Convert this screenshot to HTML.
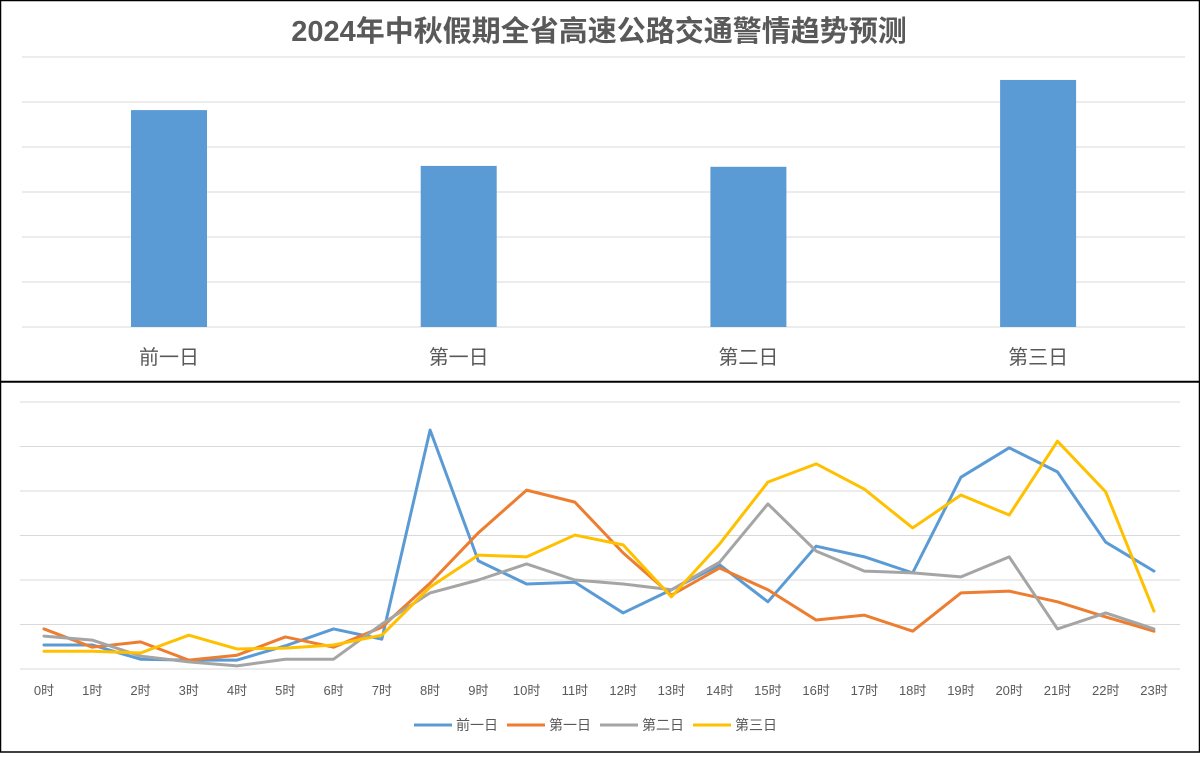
<!DOCTYPE html>
<html><head><meta charset="utf-8">
<style>
body{margin:0;background:#fff;}
svg text{font-family:"Liberation Sans","Noto Sans CJK SC",sans-serif;fill:#595959;}
</style></head>
<body>
<svg width="1200" height="753" xmlns="http://www.w3.org/2000/svg">
<rect x="0.5" y="0.5" width="1199" height="381" fill="#fff" stroke="#000" stroke-width="1.5"/>
<rect x="0.5" y="382" width="1199" height="370" fill="#fff" stroke="#000" stroke-width="1.5"/>
<text x="599" y="41" text-anchor="middle" font-size="29" font-weight="bold">2024年中秋假期全省高速公路交通警情趋势预测</text>
<g id="topChart"></g>
<g id="bottomChart"></g>
</svg>
<script>
const barCats=["前一日","第一日","第二日","第三日"];
const barVals=[4.82,3.58,3.56,5.49];
const hours=["0时","1时","2时","3时","4时","5时","6时","7时","8时","9时","10时","11时","12时","13时","14时","15时","16时","17时","18时","19时","20时","21时","22时","23时"];
const seriesNames=["前一日","第一日","第二日","第三日"];
const s0=[54,54,22,20,20,52,90,67,537,243,191,195,126,178,234,151,276,252,216,431,497,443,285,220];
const s1=[90,49,61,20,31,72,49,94,193,306,402,375,261,166,227,178,110,121,85,171,175,151,117,85];
const s2=[74,65,29,16,7,22,22,101,171,200,236,200,191,178,240,371,265,220,216,207,252,90,126,90];
const s3=[40,40,36,76,45,47,54,76,184,256,252,301,279,162,281,420,461,404,317,391,346,512,398,130];
const colors=["#5b9bd5","#ed7d31","#a5a5a5","#ffc000"];
const NS="http://www.w3.org/2000/svg";
function mk(tag,attrs,parent){const e=document.createElementNS(NS,tag);for(const k in attrs)e.setAttribute(k,attrs[k]);parent.appendChild(e);return e;}
const topG=document.getElementById('topChart');
const by=v=>327-v*45;
for(let i=0;i<=6;i++){const g=mk('line',{x1:22,x2:1185,y1:by(i),y2:by(i),stroke:'#d9d9d9','stroke-width':1},topG);

}
const bx=i=>169+i*289.7;
barCats.forEach((c,i)=>{
const r=mk('rect',{x:bx(i)-38,y:by(barVals[i]),width:76,height:barVals[i]*45,fill:'#5b9bd5'},topG);


const t=mk('text',{x:bx(i),y:364,'text-anchor':'middle','font-size':20},topG);t.textContent=c;


});
const botG=document.getElementById('bottomChart');
const ly=v=>669-v*0.445;
const lx=i=>44+i*48.26;
for(let i=0;i<=6;i++){const g=mk('line',{x1:20,x2:1180,y1:ly(i*100),y2:ly(i*100),stroke:'#d9d9d9','stroke-width':1},botG);

}
hours.forEach((h,i)=>{const t=mk('text',{x:lx(i),y:695,'text-anchor':'middle','font-size':13},botG);t.textContent=h;

});
[s0,s1,s2,s3].forEach((s,k)=>{
const p=mk('polyline',{points:s.map((v,i)=>lx(i)+','+ly(v)).join(' '),fill:'none',stroke:colors[k],'stroke-width':3,'stroke-linejoin':'round','stroke-linecap':'round'},botG);


});
const legX=[414,507,600,693];
seriesNames.forEach((n,k)=>{
const g=mk('g',{},botG);


mk('line',{x1:legX[k],x2:legX[k]+38,y1:725,y2:725,stroke:colors[k],'stroke-width':3},g);
const t=mk('text',{x:legX[k]+42,y:730,'font-size':14},g);t.textContent=n;
});
</script>
</body></html>
